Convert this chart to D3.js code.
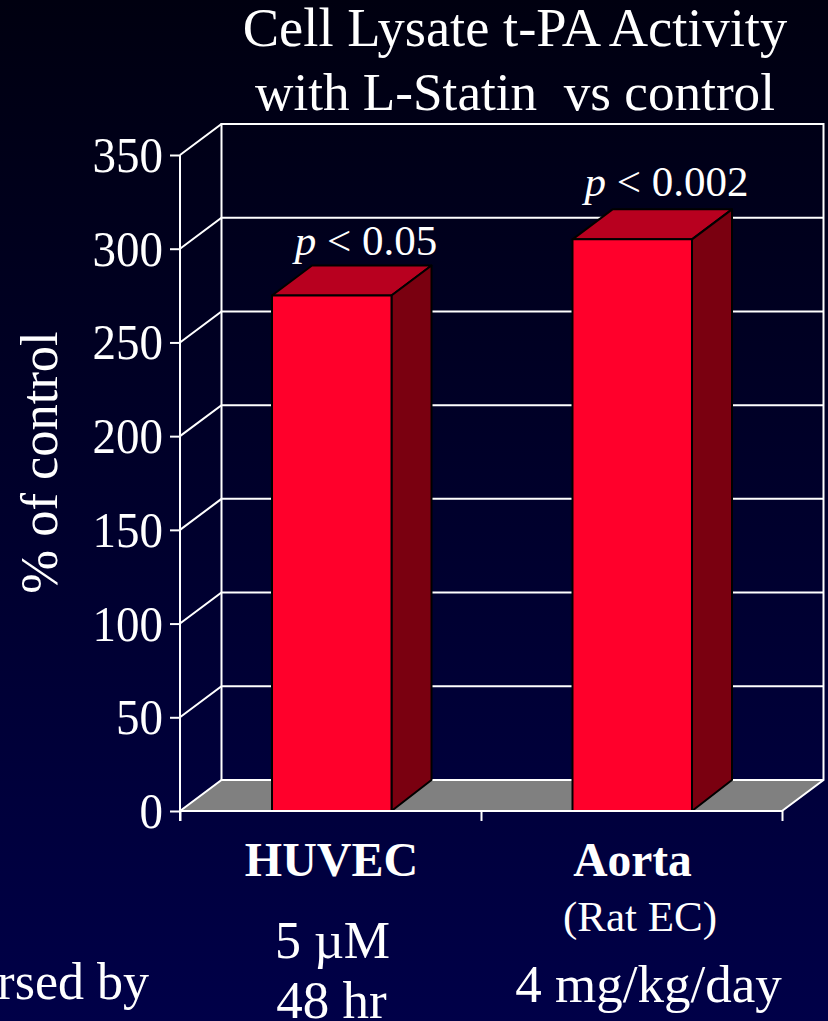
<!DOCTYPE html>
<html><head><meta charset="utf-8">
<script src="https://cdn.jsdelivr.net/npm/d3@7/dist/d3.min.js"></script>
<style>html,body{margin:0;padding:0;background:#000}svg{display:block}text{font-family:"Liberation Serif",serif;fill:#fff;white-space:pre}</style>
</head><body><svg id="c" width="828" height="1021"></svg>
<script>
const categories = ["HUVEC", "Aorta"];
const values = [275, 305];
const pLabels = ["< 0.05", "< 0.002"];
const yTicks = [0, 50, 100, 150, 200, 250, 300, 350];
const titleLines = ["Cell Lysate t-PA Activity", "with L-Statin  vs control"];
const yTitle = "% of control";

const W = 828, H = 1021;
const plotLeft = 180, plotRight = 782, plotBottom = 811, plotTop = 155, dx = 41.5, dy = -31, barW = 119.5;
const svg = d3.select("#c");
const grad = svg.append("defs").append("linearGradient").attr("id","bg").attr("x1",0).attr("x2",0).attr("y1",0).attr("y2",1);
grad.append("stop").attr("offset",0).attr("stop-color","#000010");
grad.append("stop").attr("offset",1).attr("stop-color","#000048");
svg.append("rect").attr("width",W).attr("height",H).attr("fill","url(#bg)");

const y = d3.scaleLinear().domain([0,350]).range([plotBottom,plotTop]);
const x = d3.scaleBand().domain(categories).range([plotLeft,781]);

// floor
svg.append("path").attr("fill","#808080")
  .attr("d",d3.line()([[plotLeft,plotBottom],[plotLeft+dx,plotBottom+dy],[plotRight+dx,plotBottom+dy],[plotRight,plotBottom]]));

// grid: back wall and left wall
const grid = svg.append("g").attr("stroke","#fff").attr("fill","none");
yTicks.forEach(t=>{
  grid.append("path").attr("stroke-width",2)
    .attr("d",d3.line()([[plotLeft,y(t)],[plotLeft+dx,y(t)+dy],[plotRight+dx,y(t)+dy]]));
});
grid.append("path").attr("stroke-width",2).attr("d",d3.line()([[plotLeft+dx,y(0)+dy],[plotLeft+dx,y(350)+dy],[plotRight+dx,y(350)+dy],[plotRight+dx,y(0)+dy],[plotRight,y(0)]]));

// bars
const bars = svg.append("g").attr("stroke","#000").attr("stroke-width",2).attr("stroke-linejoin","round");
categories.forEach((c,i)=>{
  const x0 = x(c)+(x.bandwidth()-barW)/2+1.5, x1 = x0+barW, yt = y(values[i]), yb = y(0);
  const bdx = 40, bdy = -30;
  bars.append("path").attr("fill","#b8001f").attr("d",d3.line()([[x0,yt],[x0+bdx,yt+bdy],[x1+bdx,yt+bdy],[x1,yt]])+"Z");
  bars.append("path").attr("fill","#7a0010").attr("d",d3.line()([[x1,yt],[x1+bdx,yt+bdy],[x1+bdx,yb+dy],[x1,yb]])+"Z");
  bars.append("rect").attr("fill","#ff002b").attr("x",x0).attr("y",yt).attr("width",barW).attr("height",yb-yt);
  const t = svg.append("text").attr("x",x0+94).attr("y",yt-41-i*2).attr("text-anchor","middle").attr("font-size",43);
  t.append("tspan").attr("font-style","italic").text("p");
  t.append("tspan").text(" "+pLabels[i]);
});

// axes
const axisY = d3.axisLeft(y).tickValues(yTicks).tickSize(10).tickFormat(d3.format("d"));
const gy = svg.append("g").attr("transform",`translate(${plotLeft},0)`).call(axisY);
gy.select(".domain").attr("stroke","#fff").attr("stroke-width",2).attr("d",`M0,${plotTop}V${plotBottom+10}`);
gy.selectAll("line").attr("stroke","#fff").attr("stroke-width",2);
gy.selectAll("text").attr("font-size",50).attr("font-family",'"Liberation Serif",serif').attr("fill","#fff")
  .attr("x",0).attr("dy",0).attr("transform","translate(-17,16.5) scale(0.94,1)");

const edge = d3.scaleLinear().domain([0,2]).range([plotLeft,plotRight]);
const axisX = d3.axisBottom(edge).tickValues([0,1,2]).tickSize(10).tickFormat("");
const gx = svg.append("g").attr("transform",`translate(0,${plotBottom})`).call(axisX);
gx.select(".domain").attr("stroke","#fff").attr("stroke-width",2).attr("d",`M${plotLeft},0H${plotRight}`);
gx.selectAll("line").attr("stroke","#fff").attr("stroke-width",2);

// text
titleLines.forEach((s,i)=>svg.append("text").attr("x",515).attr("y",[46,110][i]).attr("text-anchor","middle").attr("font-size",[54.5,53.2][i]).text(s));
svg.append("text").attr("transform","translate(57,462.5) rotate(-90)").attr("text-anchor","middle").attr("font-size",52.5).text(yTitle);

const lab = (s,px,py,fs,w)=>svg.append("text").attr("x",px).attr("y",py).attr("text-anchor","middle").attr("font-size",fs).attr("font-weight",w||"normal").text(s);
lab(categories[0],331.5,876,48,"bold");
lab(categories[1],632.5,876,47.5,"bold");
lab("(Rat EC)",640,931,43);
lab("5 µM",332.5,958,52);
lab("48 hr",331.5,1018,53);
lab("4 mg/kg/day",648.5,1002,53);
svg.append("text").attr("x",149).attr("y",999).attr("text-anchor","end").attr("font-size",52).text("rsed by");
</script></body></html>
